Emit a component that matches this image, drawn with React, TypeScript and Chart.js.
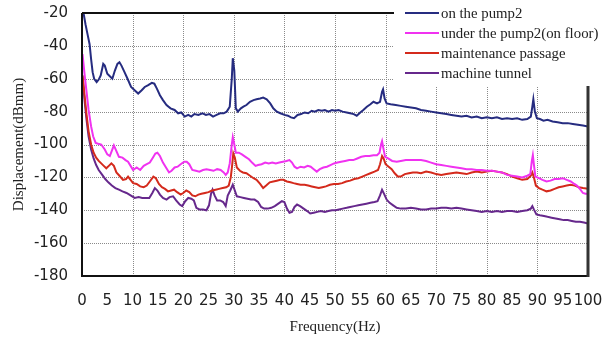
import { useEffect, useRef } from "react";
import { Chart, registerables } from "chart.js";

Chart.register(...registerables);

// ---- data ----
const seriesLabels = [
  "on the pump2",
  "under the pump2(on floor)",
  "maintenance passage",
  "machine tunnel",
];

const pumpFreq = [0.3,0.7,1.1,1.5,1.8,2.1,2.4,2.9,3.3,3.7,4.2,4.5,5.0,5.5,6.0,6.5,7.0,7.4,7.8,8.4,9.0,9.7,10.4,11.1,11.8,12.4,13.0,13.8,14.3,14.8,15.4,16.0,16.7,17.5,18.3,19.0,19.6,20.3,21.0,21.6,22.2,23.0,23.8,24.5,25.2,25.9,26.6,27.3,28.0,28.6,29.2,29.6,29.8,30.1,30.4,30.8,31.4,31.9,32.5,33.2,33.9,34.5,35.2,35.8,36.5,37.2,37.8,38.5,39.2,40.0,40.7,41.3,41.9,42.6,43.3,44.0,44.7,45.4,46.0,46.7,47.4,48.0,48.7,49.4,50.0,50.7,51.5,52.3,53.0,53.7,54.3,55.0,55.6,56.3,57.0,57.6,58.3,58.9,59.3,59.5,59.8,60.2,61.0,62.0,63.0,64.0,65.0,66.0,67.0,68.0,69.0,70.0,71.0,72.0,73.0,74.0,75.0,76.0,77.0,78.0,79.0,80.0,81.0,82.0,83.0,84.0,85.0,86.0,87.0,88.0,88.7,89.0,89.2,89.5,89.9,90.5,91.2,92.0,93.0,94.0,95.0,96.0,97.0,98.0,99.0,100];
const pumpDb = [-20,-27,-33,-39,-48,-56,-60,-62,-60.5,-58,-51,-52,-57,-58.5,-60,-55,-51,-50,-52,-56,-60,-65,-67,-69,-67,-65,-64,-62.5,-63,-66,-70,-73,-76,-78,-79,-81,-80.5,-83,-82,-83,-81.5,-82,-81,-82,-81.5,-83,-82,-81,-81,-80,-77,-60,-47.5,-55,-78,-80,-78,-77,-76,-74,-73,-72.5,-72,-71.5,-72.5,-75,-78,-80,-81,-82,-82.5,-83.5,-84,-82,-81.5,-80.5,-81,-79.5,-80,-79,-79.5,-79,-80,-79,-79.5,-79,-80,-80.5,-81,-81.5,-82.5,-80.5,-79,-77,-75.5,-74,-75,-74,-68,-66.5,-72,-75,-75.5,-76,-76.5,-77,-77.5,-78,-79,-79.5,-80,-80.5,-81,-81.5,-82,-82.5,-83,-82.5,-83.5,-83,-84,-83.5,-84,-83.5,-84.5,-84,-84.5,-84,-85,-84.5,-83,-77,-72.5,-80,-84,-84.5,-85.5,-85,-86,-86.5,-87,-87,-87.5,-88,-88.5,-89];

const floorFreq = [0.1,0.5,0.9,1.3,1.8,2.2,2.7,3.2,3.8,4.5,5.0,5.5,6.0,6.3,6.8,7.3,8.0,8.6,9.1,9.6,10.1,10.8,11.5,12.2,12.8,13.4,14.0,14.5,14.9,15.4,16.0,16.6,17.2,17.7,18.3,18.9,19.5,20.2,20.7,21.2,21.8,22.5,23.2,23.9,24.6,25.3,26.0,26.7,27.4,28.0,28.4,28.8,29.2,29.6,29.8,30.1,30.4,31.0,31.6,32.3,33.0,33.6,34.3,34.8,35.5,36.2,36.9,37.6,38.3,39.0,39.7,40.4,41.0,41.5,42.0,42.5,43.2,43.9,44.6,45.2,45.8,46.4,47.0,47.7,48.4,49.1,49.8,50.5,51.2,52.0,52.8,53.6,54.4,55.2,56.0,56.8,57.6,58.3,58.8,59.1,59.3,59.6,59.9,60.5,61.3,62.2,63.0,64.0,65.0,66.0,67.0,68.0,69.0,70.0,71.0,72.0,73.0,74.0,75.0,76.0,77.0,78.0,79.0,80.0,81.0,82.0,83.0,84.0,85.0,86.0,87.0,88.0,88.6,88.9,89.1,89.3,89.6,90.3,91.0,91.8,92.6,93.4,94.2,95.0,95.8,96.6,97.3,97.8,98.4,99.0,99.5,100];
const floorDb = [-45,-57,-68,-79,-89,-95,-99,-99.5,-100,-103,-106,-107,-103,-100.5,-104,-107.5,-108,-109.5,-110.5,-113,-115.5,-114,-115.5,-113,-112,-111,-108,-105.5,-105,-107,-111,-114,-117,-116,-114,-113.5,-112,-110.5,-110.5,-112,-115.5,-116,-116.5,-115.5,-115,-115.5,-116,-115,-115.5,-117,-118.5,-117,-111.5,-100,-95.5,-100,-105,-105,-106,-107.5,-109,-111,-113,-112.5,-112,-111,-111.5,-111,-111.5,-111,-110.5,-110,-109.5,-111,-113.5,-114.5,-113.5,-114,-113,-113.5,-115,-116.5,-115,-114,-113.5,-112.5,-111.5,-111,-110.5,-110,-109.5,-109.5,-108.5,-107.5,-107,-107,-106.5,-106.5,-105,-100,-98,-103,-107.5,-108.5,-110,-110.5,-110,-109.5,-109.5,-109.5,-109.5,-110,-111,-112,-112.5,-113,-113.5,-114,-114.5,-115,-115,-115.5,-115.5,-116,-116,-116.5,-117,-118.5,-119,-119.5,-120,-119,-118,-110,-106.5,-112,-119.5,-120.5,-121.5,-122.5,-122,-121,-121,-120.5,-121.5,-122.5,-124,-125,-127,-129.5,-130,-130];

const passageFreq = [0.1,0.5,0.9,1.3,1.8,2.3,2.8,3.3,3.8,4.3,4.8,5.3,5.8,6.3,6.8,7.4,8.1,8.7,9.1,9.6,10.1,10.8,11.5,12.2,12.8,13.4,14.1,14.6,15.2,15.8,16.4,17.0,17.6,18.2,18.8,19.5,20.0,20.6,21.2,21.8,22.4,23.0,23.6,24.3,25.0,25.7,26.4,27.1,27.8,28.5,29.0,29.4,29.7,29.9,30.2,30.6,31.2,31.8,32.5,33.2,33.9,34.5,35.2,35.8,36.4,37.1,37.8,38.5,39.2,39.8,40.5,41.2,41.8,42.5,43.2,44.0,44.7,45.4,46.1,46.8,47.5,48.2,49.0,49.8,50.6,51.4,52.2,53.0,53.8,54.6,55.4,56.2,57.0,57.8,58.5,58.9,59.3,59.6,60.0,60.6,61.2,61.8,62.4,63.0,63.8,64.6,65.4,66.2,67.0,68.0,69.0,70.0,71.0,72.0,73.0,74.0,75.0,76.0,77.0,78.0,79.0,80.0,81.0,82.0,83.0,84.0,85.0,86.0,87.0,88.0,88.7,89.0,89.3,89.7,90.3,91.0,91.8,92.6,93.4,94.2,95.0,95.8,96.6,97.4,98.2,99.0,100];
const passageDb = [-58,-70,-82,-92,-100,-105,-108,-110,-111.5,-113,-114.5,-113,-111.5,-113,-117,-119,-121.5,-121,-119.5,-121.5,-123.5,-124,-125.5,-126,-125,-122.5,-119.5,-120.5,-124,-126,-127,-128.5,-128,-127.5,-129,-130.5,-129.5,-128,-129,-131,-131.5,-130.5,-130,-129.5,-129,-128,-127.5,-127,-126.5,-126,-125,-120,-112,-105.5,-108,-114,-116,-117,-117.5,-119,-120.5,-121.5,-124,-126.5,-125,-123,-122.5,-122,-121.5,-121.5,-122.5,-123,-123.5,-124,-124.5,-124.5,-125,-125.5,-126,-126.5,-126,-125.5,-124.5,-124,-124,-123.5,-122.5,-122,-121,-120.5,-119.5,-118.5,-117.5,-116.5,-115.5,-112,-107,-108.5,-112,-113.5,-115,-117.5,-119.5,-119.5,-118,-117.5,-117,-117,-117.5,-116.5,-117,-118,-118.5,-118,-117.5,-117,-117.5,-118,-117,-116.5,-117,-116.5,-116,-116.5,-117,-118,-119.5,-120.5,-121.5,-121,-119,-117,-120,-125,-126.5,-127.5,-128.5,-128,-127,-126,-125.5,-125,-124.5,-125,-126,-126.5,-127];

const tunnelFreq = [0.1,0.5,0.9,1.3,1.8,2.3,2.8,3.3,4.0,4.6,5.2,5.9,6.6,7.3,8.0,8.8,9.6,10.4,11.2,11.9,12.6,13.3,13.9,14.4,14.9,15.4,16.0,16.7,17.3,18.0,18.6,19.3,19.8,20.4,21.0,21.6,22.1,22.6,23.2,23.9,24.6,25.1,25.5,25.8,26.2,26.7,27.3,27.9,28.4,28.8,29.3,29.8,30.2,30.6,31.3,32.0,32.7,33.4,34.1,34.8,35.4,36.0,36.7,37.4,38.1,38.8,39.5,40.0,40.5,41.0,41.5,42.0,42.5,43.1,43.8,44.5,45.1,45.8,46.5,47.2,48.0,48.7,49.4,50.1,50.8,51.5,52.3,53.0,53.8,54.6,55.4,56.2,57.0,57.8,58.4,58.9,59.3,59.7,60.2,60.8,61.5,62.2,63.0,64.0,65.0,66.0,67.0,68.0,69.0,70.0,71.0,72.0,73.0,74.0,75.0,76.0,77.0,78.0,79.0,80.0,81.0,82.0,83.0,84.0,85.0,86.0,87.0,88.0,88.7,89.0,89.3,89.8,90.5,91.3,92.0,92.8,93.6,94.4,95.2,96.0,96.8,97.6,98.4,99.2,100];
const tunnelDb = [-58,-73,-85,-95,-103,-108.5,-112.5,-115.5,-118.5,-121,-123,-125,-126.5,-127.5,-128.5,-129.5,-131,-132.5,-132,-132.5,-132.5,-132.5,-129.5,-126.5,-128,-130.5,-132.5,-133.5,-132,-131.5,-134,-136.5,-137.5,-134.5,-132.5,-133,-134,-138.5,-139.5,-139.5,-140,-137,-130,-127.5,-131,-134,-134,-135,-137.5,-131,-128,-124.5,-128,-131.5,-132,-132.5,-133,-133.5,-133.5,-135,-138,-139,-139,-138.5,-137.5,-136,-134.5,-135,-139,-141.5,-141,-138,-136.5,-137.5,-139,-140.5,-142,-141.5,-141,-140.5,-141,-140.5,-140,-140,-139.5,-139,-138.5,-138,-137.5,-137,-136.5,-136,-135.5,-135,-134.5,-131,-127.5,-130,-133.5,-135.5,-137,-138.5,-139,-139,-138.5,-139,-139.5,-139.5,-139,-139,-138.5,-138.5,-139,-138.5,-139,-139.5,-140,-140.5,-141,-140.5,-141,-140.5,-141,-140.5,-140.5,-141,-140.5,-140,-139,-137.5,-139.5,-142.5,-143,-143.5,-144,-144.5,-145,-145.5,-146,-146,-146.5,-147,-147,-147.5,-148];

const seriesColors = ["#262c80", "#f032f0", "#d42a1c", "#66288c"];

const xMin = 0;
const xMax = 100;
const xStep = 5;
const xGridStep = 10;
const yMin = -180;
const yMax = -20;
const yStep = 20;

function drawDottedGrid(chart: any) {
  const { ctx, chartArea, scales } = chart;
  const { left, right, top, bottom } = chartArea;
  ctx.save();
  ctx.fillStyle = "#8a8a8a";
  for (let v = xMin + xGridStep; v < xMax; v += xGridStep) {
    const px = Math.round(scales.x.getPixelForValue(v));
    for (let p = Math.round(top); p < bottom; p += 2) ctx.fillRect(px, p, 1, 1);
  }
  for (let v = yMin + yStep; v < yMax; v += yStep) {
    const py = Math.round(scales.y.getPixelForValue(v));
    for (let p = Math.round(left); p < right; p += 2) ctx.fillRect(p, py, 1, 1);
  }
  ctx.restore();
}

const gridPlugin = {
  id: "dottedGrid",
  beforeDatasetsDraw(chart: any) {
    drawDottedGrid(chart);
  },
};

const boxPlugin = {
  id: "plotBox",
  afterDatasetsDraw(chart: any) {
    const { ctx, chartArea } = chart;
    const { left, right, top, bottom } = chartArea;
    ctx.save();
    ctx.setLineDash([]);
    ctx.strokeStyle = "#111";
    ctx.lineWidth = 2;
    ctx.beginPath();
    ctx.moveTo(left, top);
    ctx.lineTo(right, top);
    ctx.moveTo(left, top);
    ctx.lineTo(left, bottom);
    ctx.lineTo(right, bottom);
    ctx.stroke();
    ctx.strokeStyle = "#333";
    ctx.lineWidth = 3;
    ctx.beginPath();
    ctx.moveTo(right, top);
    ctx.lineTo(right, bottom + 1);
    ctx.stroke();
    ctx.restore();
  },
};

const legendPlugin = {
  id: "sideLegend",
  afterDraw(chart: any) {
    const { ctx } = chart;
    ctx.save();
    ctx.setLineDash([]);
    ctx.fillStyle = "#ffffff";
    ctx.fillRect(394, 0, 209, 86);
    ctx.font = '14.8px "Liberation Serif"';
    ctx.textBaseline = "middle";
    ctx.textAlign = "left";
    chart.data.datasets.forEach((ds: any, i: number) => {
      const y = 13 + i * 20;
      ctx.strokeStyle = ds.borderColor;
      ctx.lineWidth = 2;
      ctx.beginPath();
      ctx.moveTo(405, y);
      ctx.lineTo(439, y);
      ctx.stroke();
      ctx.fillStyle = "#222";
      ctx.fillText(ds.label, 441, y + 1);
    });
    ctx.restore();
  },
};

export default function App() {
  const canvasRef = useRef<HTMLCanvasElement | null>(null);

  useEffect(() => {
    const canvas = canvasRef.current;
    if (!canvas) return;
    const freqs = [pumpFreq, floorFreq, passageFreq, tunnelFreq];
    const dbs = [pumpDb, floorDb, passageDb, tunnelDb];
    const datasets = seriesLabels.map((label, i) => ({
      label,
      data: freqs[i].map((f, j) => ({ x: f, y: dbs[i][j] })),
      borderColor: seriesColors[i],
      backgroundColor: seriesColors[i],
      borderWidth: 2,
      pointRadius: 0,
      tension: 0,
      fill: false,
    }));

    const chart = new Chart(canvas, {
      type: "line",
      data: { datasets },
      options: {
        animation: false,
        responsive: false,
        maintainAspectRatio: false,
        devicePixelRatio: 1,
        layout: { padding: { top: 13, right: 15, left: 0, bottom: 0 } },
        plugins: {
          legend: { display: false },
          tooltip: { enabled: false },
          title: { display: false },
        },
        scales: {
          x: {
            type: "linear",
            min: xMin,
            max: xMax,
            ticks: {
              stepSize: xStep,
              autoSkip: false,
              maxRotation: 0,
              minRotation: 0,
              padding: 16,
              color: "#222",
              font: { family: "DejaVu Sans", size: 15 },
            },
            grid: { display: false, drawTicks: false },
            border: { display: false },
            title: {
              display: true,
              text: "Frequency(Hz)",
              color: "#222",
              font: { family: "Liberation Serif", size: 15 },
              padding: { top: 0, bottom: 11 },
            },
            afterFit(scale: any) {
              scale.height = 71;
              scale.paddingLeft = 0;
              scale.paddingRight = 0;
            },
          },
          y: {
            type: "linear",
            min: yMin,
            max: yMax,
            ticks: {
              stepSize: yStep,
              padding: 14,
              color: "#222",
              font: { family: "DejaVu Sans", size: 15 },
            },
            grid: { display: false, drawTicks: false },
            border: { display: false },
            title: {
              display: true,
              text: "Displacement(dBmm)",
              color: "#222",
              font: { family: "Liberation Serif", size: 15 },
              padding: { top: 10, bottom: 0 },
            },
            afterFit(scale: any) {
              scale.width = 82;
              scale.paddingTop = 0;
              scale.paddingBottom = 0;
            },
          },
        },
      },
      plugins: [gridPlugin, boxPlugin, legendPlugin],
    });
    return () => chart.destroy();
  }, []);

  return (
    <div style={{ position: "fixed", left: 0, top: 0, width: 603, height: 347, background: "#fff" }}>
      <canvas ref={canvasRef} width={603} height={347} style={{ display: "block", width: 603, height: 347 }} />
    </div>
  );
}
